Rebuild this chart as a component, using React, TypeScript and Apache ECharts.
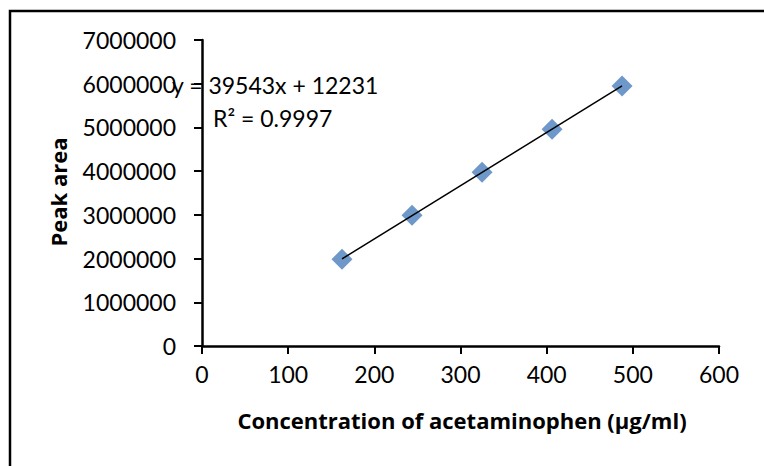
import React, { useEffect, useRef } from "react";
import * as echarts from "echarts";

const concentrations = [162.5, 243.75, 325, 406.25, 487.5];
const peakAreas = [1985000, 2990000, 3975000, 4960000, 5945000];
const xTicks = { min: 0, max: 600, interval: 100 };
const yTicks = { min: 0, max: 7000000, interval: 1000000 };
const equationText = "y = 39543x + 12231";
const r2Text = "R² = 0.9997";
const xTitle = "Concentration of acetaminophen (µg/ml)";
const yTitle = "Peak area";

function fitLine(xs: number[], ys: number[]) {
  const n = xs.length;
  const mx = xs.reduce((a, b) => a + b, 0) / n;
  const my = ys.reduce((a, b) => a + b, 0) / n;
  let sxy = 0, sxx = 0;
  for (let i = 0; i < n; i++) {
    sxy += (xs[i] - mx) * (ys[i] - my);
    sxx += (xs[i] - mx) * (xs[i] - mx);
  }
  const k = sxy / sxx;
  const b = my - k * mx;
  const x0 = Math.min(...xs), x1 = Math.max(...xs);
  return [[x0, k * x0 + b], [x1, k * x1 + b]];
}

export default function App() {
  const ref = useRef<HTMLDivElement>(null);
  useEffect(() => {
    document.body.style.margin = "0";
    const chart = echarts.init(ref.current!, null, { renderer: "svg" });
    const font = "Lato, 'Open Sans', sans-serif";
    const boldFont = "'Open Sans', Lato, sans-serif";
    const axisCommon = {
      axisLine: { show: true, onZero: false, lineStyle: { color: "#000", width: 2.5 } },
      axisTick: { show: true, inside: false, length: 8, lineStyle: { color: "#000", width: 2 } },
      splitLine: { show: false },
    };
    chart.setOption({
      animation: false,
      backgroundColor: "#fff",
      grid: { left: 202, right: 45, top: 40, bottom: 120, containLabel: false },
      xAxis: {
        type: "value",
        ...xTicks,
        ...axisCommon,
        axisLabel: { color: "#000", fontSize: 23, fontFamily: font, margin: 16 },
      },
      yAxis: {
        type: "value",
        ...yTicks,
        ...axisCommon,
        axisLabel: {
          color: "#000",
          fontSize: 23,
          fontFamily: font,
          margin: 26,
          formatter: (v: number) => String(v),
        },
      },
      series: [
        {
          type: "line",
          data: fitLine(concentrations, peakAreas),
          symbol: "none",
          lineStyle: { color: "#000", width: 1.5 },
          z: 3,
        },
        {
          type: "scatter",
          data: concentrations.map((x, i) => [x, peakAreas[i]]),
          symbol: "diamond",
          symbolSize: [21, 21],
          itemStyle: { color: "#4A7EBB" },
          z: 2,
        },
      ],
      graphic: [
        {
          type: "rect",
          shape: { x: 10, y: 11, width: 900, height: 600 },
          style: { fill: "none", stroke: "#000", lineWidth: 2.5 },
          silent: true,
        },
        {
          type: "text",
          x: 172,
          y: 85,
          style: {
            text: equationText,
            fill: "#000",
            font: `23px ${font}`,
            verticalAlign: "middle",
          },
        },
        {
          type: "text",
          x: 213,
          y: 118,
          style: {
            text: r2Text,
            fill: "#000",
            font: `23px ${font}`,
            verticalAlign: "middle",
          },
        },
        {
          type: "text",
          x: 462,
          y: 420,
          style: {
            text: xTitle,
            fill: "#000",
            font: `bold 22px ${boldFont}`,
            align: "center",
            verticalAlign: "middle",
          },
        },
        {
          type: "text",
          x: 58,
          y: 192,
          rotation: Math.PI / 2,
          style: {
            text: yTitle,
            fill: "#000",
            font: `bold 22px ${boldFont}`,
            align: "center",
            verticalAlign: "middle",
          },
        },
      ],
    });
    return () => chart.dispose();
  }, []);
  return <div ref={ref} style={{ width: 764, height: 466 }} />;
}
